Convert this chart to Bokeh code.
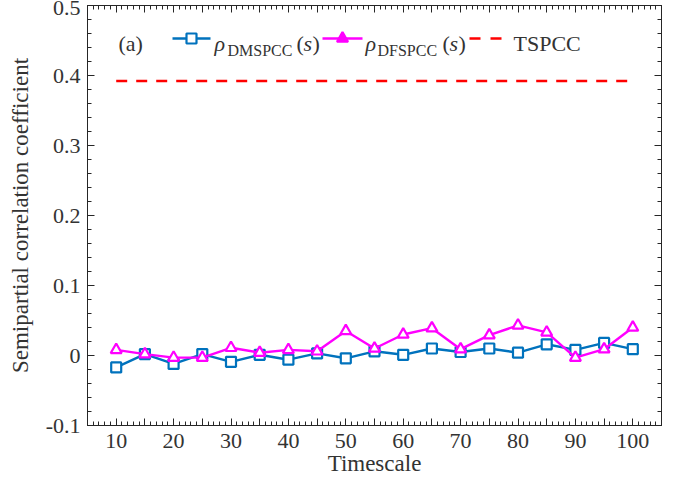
from bokeh.plotting import figure
from bokeh.models import LinearAxis, FixedTicker, Range1d, Label
from bokeh.embed import file_html
from bokeh.resources import INLINE

# ---------------- data ----------------
timescale = [10, 15, 20, 25, 30, 35, 40, 45, 50, 55, 60, 65, 70, 75, 80, 85, 90, 95, 100]
rho_dmspcc = [-0.017, 0.002, -0.012, 0.002, -0.009, 0.001, -0.006, 0.003, -0.004, 0.006,
              0.001, 0.010, 0.005, 0.010, 0.004, 0.016, 0.008, 0.018, 0.009]
rho_dfspcc = [0.008, 0.002, -0.003, -0.003, 0.011, 0.004, 0.008, 0.006, 0.035, 0.010,
              0.030, 0.039, 0.009, 0.029, 0.043, 0.033, -0.003, 0.009, 0.040]
tspcc = 0.392
x_major = [10, 15, 20, 25, 30, 35, 40, 45, 50, 55, 60, 65, 70, 75, 80, 85, 90, 95, 100]
x_labels = {t: (str(t) if t % 10 == 0 else "") for t in x_major}
y_major = [-0.1, 0, 0.1, 0.2, 0.3, 0.4, 0.5]
y_labels = {-0.1: "-0.1", 0: "0", 0.1: "0.1", 0.2: "0.2", 0.3: "0.3", 0.4: "0.4", 0.5: "0.5"}

# ---------------- style ----------------
FONT = "Liberation Serif"
TXT = "#333333"
AX = "#262626"
BLUE = "#0072BD"
MAG = "#FF00FF"
RED = "#FF0000"

X0, X1, Y0, Y1 = 5, 105, -0.1, 0.5
FW, FH = 574, 420

p = figure(frame_width=FW, frame_height=FH, x_range=Range1d(X0, X1), y_range=Range1d(Y0, Y1),
           output_backend="svg", toolbar_location=None,
           min_border_left=87, min_border_right=2, min_border_top=5, min_border_bottom=0)
p.xgrid.visible = False
p.ygrid.visible = False
p.outline_line_color = AX
p.background_fill_color = "white"
p.border_fill_color = "white"

x_minor = list(range(5, 106))
y_minor = [round(-0.1 + 0.02 * i, 2) for i in range(31)]


def style_axis(ax, show_labels):
    ax.axis_line_color = AX
    ax.axis_line_width = 1
    ax.major_tick_line_color = AX
    ax.minor_tick_line_color = AX
    ax.major_tick_in = 7
    ax.major_tick_out = 0
    ax.minor_tick_in = 4
    ax.minor_tick_out = 0
    ax.major_label_text_font = FONT
    ax.major_label_text_color = TXT
    ax.axis_label_text_font = FONT
    ax.axis_label_text_color = TXT
    ax.axis_label_text_font_style = "normal"
    if show_labels:
        ax.major_label_text_font_size = "22px"
        ax.axis_label_text_font_size = "23px"
    else:
        ax.major_label_text_font_size = "1px"
        ax.major_label_standoff = 0


xax = p.xaxis[0]
xax.ticker = FixedTicker(ticks=x_major, minor_ticks=x_minor)
xax.major_label_overrides = x_labels
xax.axis_label = "Timescale"
style_axis(xax, True)
xax.major_label_standoff = 8
xax.axis_label_standoff = 0

yax = p.yaxis[0]
yax.ticker = FixedTicker(ticks=y_major, minor_ticks=y_minor)
yax.major_label_overrides = y_labels
yax.axis_label = "Semipartial correlation coefficient"
style_axis(yax, True)
yax.major_label_standoff = 7
yax.axis_label_standoff = 10

top = LinearAxis(ticker=FixedTicker(ticks=x_major, minor_ticks=x_minor))
style_axis(top, False)
top.major_label_overrides = {t: "" for t in x_major}
p.add_layout(top, "above")
right = LinearAxis(ticker=FixedTicker(ticks=y_major, minor_ticks=y_minor))
style_axis(right, False)
right.major_label_overrides = {t: "" for t in y_major}
p.add_layout(right, "right")

# ---------------- data marks ----------------
p.line([timescale[0], timescale[-1]], [tspcc, tspcc], line_color=RED, line_width=2.5,
       line_dash="11 9")
p.line(timescale, rho_dmspcc, line_color=BLUE, line_width=2.4)
p.scatter(timescale, rho_dmspcc, marker="square", size=10, line_color=BLUE, line_width=2.2,
          fill_color="white")
p.line(timescale, rho_dfspcc, line_color=MAG, line_width=2.4)
p.scatter(timescale, rho_dfspcc, marker="triangle", size=11, line_color=MAG, line_width=2.2,
          fill_color="white")


# ---------------- legend (drawn by hand) ----------------
def dx(px):
    return X0 + px * (X1 - X0) / FW


def dy(py):
    return Y1 - py * (Y1 - Y0) / FH


ROW = 33      # line row, px below frame top
BASE = 38     # text baseline
SUB = 45      # subscript baseline


def txt(px, py, s, size="22px", style="normal"):
    p.add_layout(Label(x=dx(px), y=dy(py), text=s, text_font=FONT, text_font_size=size,
                       text_font_style=style, text_color=TXT, text_baseline="alphabetic",
                       text_align="left"))


txt(31, BASE, "(a)")
# DMSPCC entry
p.line([dx(85), dx(123)], [dy(ROW), dy(ROW)], line_color=BLUE, line_width=2.4)
p.scatter([dx(104)], [dy(ROW)], marker="square", size=10, line_color=BLUE, line_width=2.2,
          fill_color="white")
txt(127, BASE, "ρ", style="italic")
txt(140, SUB, "DMSPCC", size="16px")
txt(209, BASE, "(")
txt(216, BASE, "s", style="italic")
txt(225, BASE, ")")
# DFSPCC entry
p.line([dx(235), dx(275)], [dy(ROW), dy(ROW)], line_color=MAG, line_width=2.4)
p.scatter([dx(255)], [dy(ROW)], marker="triangle", size=11, line_color=MAG, line_width=2.2,
          fill_color=MAG)
txt(278, BASE, "ρ", style="italic")
txt(290, SUB, "DFSPCC", size="16px")
txt(355, BASE, "(")
txt(362, BASE, "s", style="italic")
txt(371, BASE, ")")
# TSPCC entry
p.line([dx(382), dx(414)], [dy(ROW), dy(ROW)], line_color=RED, line_width=2.5, line_dash="11 10")
txt(426, BASE, "TSPCC")

open("out.html", "w").write(file_html(p, INLINE))
